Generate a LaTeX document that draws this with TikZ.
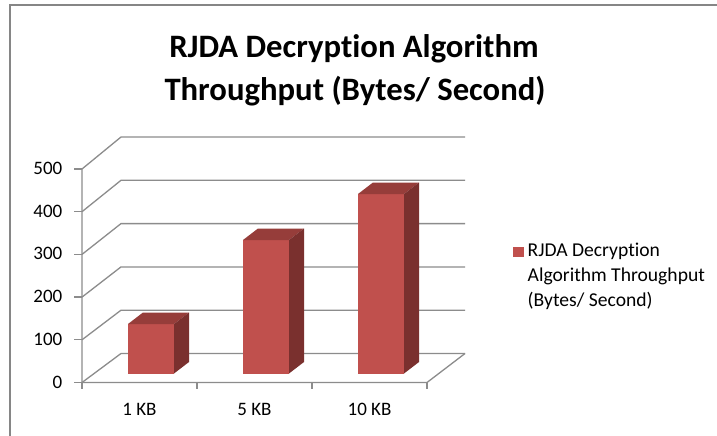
\documentclass[tikz,border=0pt]{standalone}
\usepackage{fontspec}
\setmainfont{Carlito}[Ligatures={NoCommon,NoDiscretionary,NoContextual}]
\definecolor{gridgray}{RGB}{140,140,140}
\definecolor{framegray}{RGB}{134,134,134}
\definecolor{barfront}{RGB}{192,80,77}
\definecolor{bartop}{RGB}{150,61,58}
\definecolor{barside}{RGB}{122,48,46}
\begin{document}
\begin{tikzpicture}[x=1pt,y=-1pt,
  grid/.style={draw=gridgray,line width=1.3pt},
  frame/.style={draw=framegray,line width=2pt},
  front/.style={fill=barfront},
  topface/.style={fill=bartop},
  sideface/.style={fill=barside},
  titletext/.style={font=\fontsize{32.7}{39}\selectfont\bfseries,anchor=base,inner sep=0pt},
  axislabel/.style={font=\fontsize{19}{23}\selectfont,inner sep=0pt},
  legendtext/.style={font=\fontsize{19.6}{25}\selectfont,anchor=base west,inner sep=0pt}]
\useasboundingbox[fill=white] (0,0) rectangle (717,436);
% frame
\draw[frame] (9.5,440) -- (9.5,5.5) -- (720,5.5);
% title
\node[titletext] (t1) at (354,58) {RJDA Decryption Algorithm};
\node[titletext] (t2) at (355,100) {Throughput (Bytes/ Second)};
% gridlines and walls
\foreach \k in {0,...,5}{
  \pgfmathsetmacro{\fy}{382.5-42.7*\k}
  \pgfmathsetmacro{\by}{353.5-43.3*\k}
  \draw[grid] (82,\fy) -- (121,\by) -- (465,\by);
  \draw[grid] (74,\fy) -- (82,\fy);
}
\draw[grid] (82,169) -- (82,382.5) -- (427,382.5) -- (465,353.5);
\foreach \x in {82,197,312,427}{\draw[grid] (\x,382.5) -- (\x,389);}
% y labels
\node[axislabel,anchor=base east] (y0) at (62.5,388) {0};
\node[axislabel,anchor=base east] (y1) at (62.5,345.3) {100};
\node[axislabel,anchor=base east] (y2) at (62.5,302.6) {200};
\node[axislabel,anchor=base east] (y3) at (62.5,259.9) {300};
\node[axislabel,anchor=base east] (y4) at (62.5,217.2) {400};
\node[axislabel,anchor=base east] (y5) at (62.5,174.5) {500};
% category labels
\node[axislabel,anchor=base] (c1) at (139.5,415) {1 KB};
\node[axislabel,anchor=base] (c2) at (254.5,415) {5 KB};
\node[axislabel,anchor=base] (c3) at (369.5,415) {10 KB};
% bars
\foreach \x/\t in {128/324,243/240,358/194}{
  \fill[front] (\x,373.5) rectangle (\x+46,\t);
  \fill[topface] (\x,\t) -- (\x+15,\t-11.5) -- (\x+61,\t-11.5) -- (\x+46,\t) -- cycle;
  \fill[sideface] (\x+46,373.5) -- (\x+61,362) -- (\x+61,\t-11.5) -- (\x+46,\t) -- cycle;
}
% legend
\fill[barfront] (513,246.5) rectangle (524,256.5);
\node[legendtext] (l1) at (527.5,256.5) {RJDA Decryption};
\node[legendtext] (l2) at (527.5,281.5) {Algorithm Throughput};
\node[legendtext] (l3) at (527.5,306.5) {(Bytes/ Second)};
\end{tikzpicture}
\end{document}
